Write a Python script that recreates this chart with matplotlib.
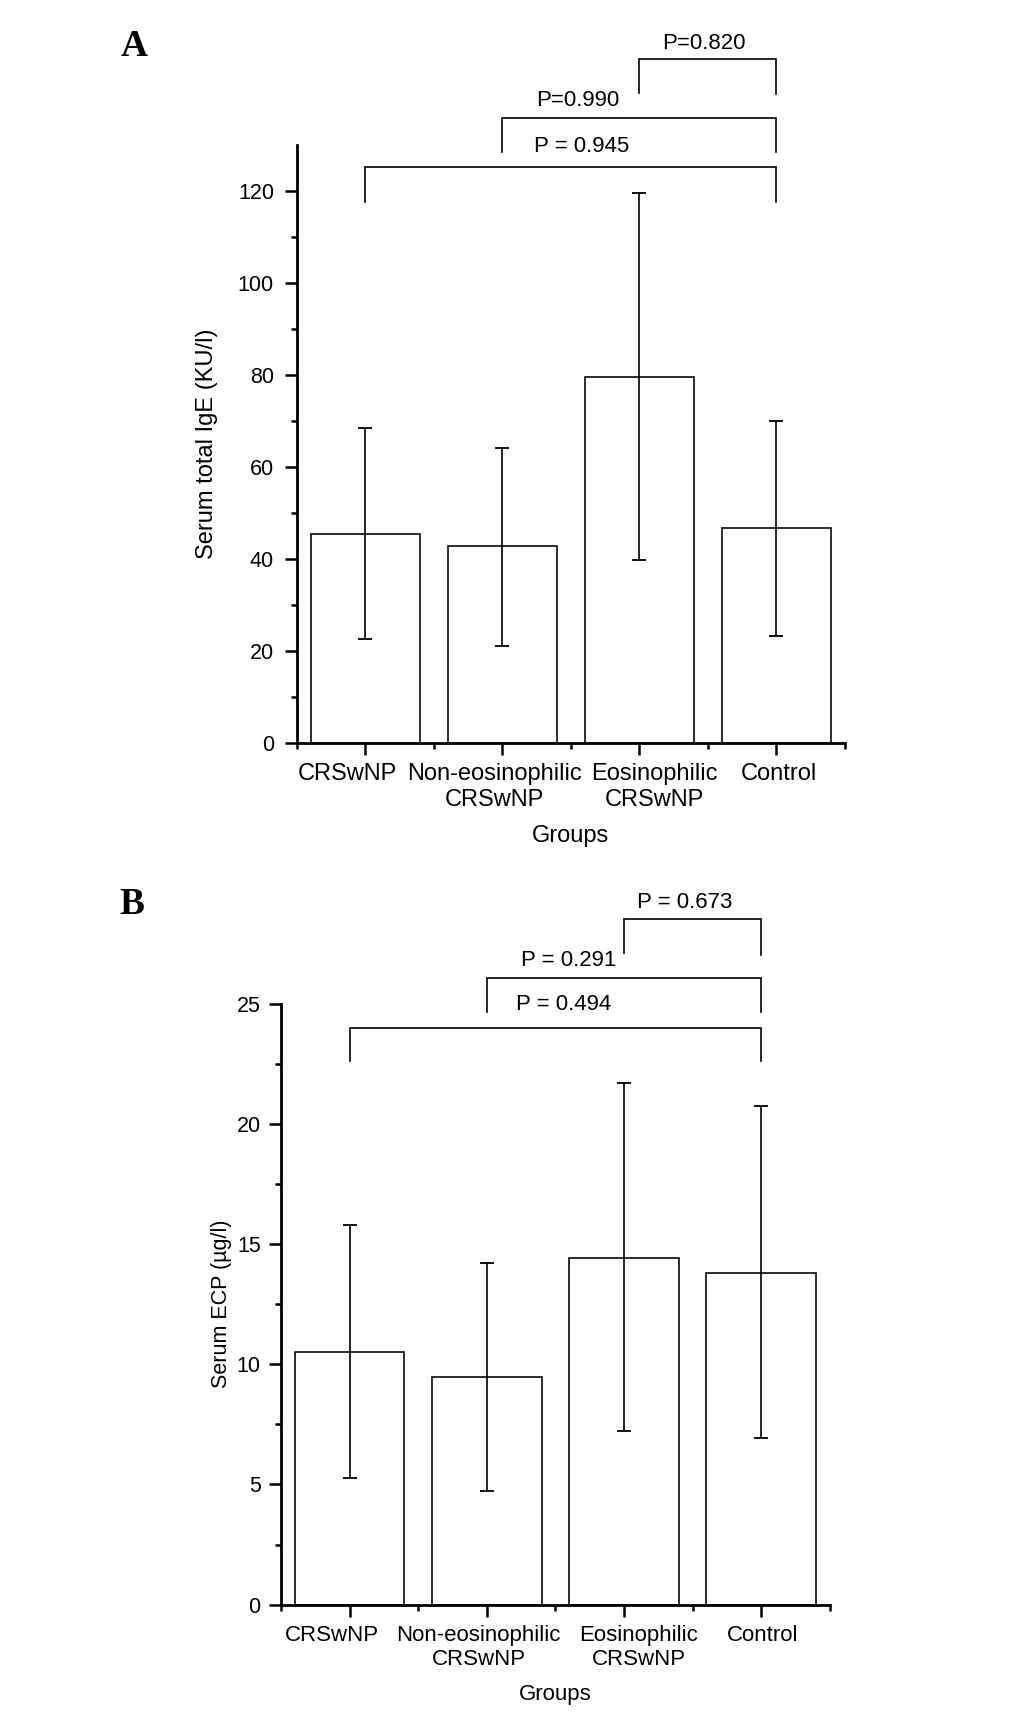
import numpy as np
import matplotlib.pyplot as plt
from matplotlib.transforms import ScaledTranslation

plt.rcParams['font.family'] = ['Liberation Sans', 'DejaVu Sans']

# data
groups = ['CRSwNP', 'Non-eosinophilic\nCRSwNP', 'Eosinophilic\nCRSwNP', 'Control']

ige_mean = [45.5, 42.7, 79.5, 46.8]
ige_low = [22.7, 21.1, 39.8, 23.3]
ige_high = [68.5, 64.0, 119.5, 70.0]

ecp_mean = [10.5, 9.47, 14.4, 13.8]
ecp_low = [5.28, 4.73, 7.22, 6.92]
ecp_high = [15.8, 14.2, 21.7, 20.75]

ige_pvals = ['P = 0.945', 'P=0.990', 'P=0.820']
ecp_pvals = ['P = 0.494', 'P = 0.291', 'P = 0.673']
pairs = [(0, 3), (1, 3), (2, 3)]

# bracket geometry per panel: (bar y, left leg end, right leg end, label x, label y)
ige_brackets = [(125.2, 117.6, 117.6, 1.58, 129.7),
                (135.9, 128.5, 128.5, 1.55, 139.7),
                (148.6, 141.2, 141.0, 2.47, 151.9)]
ecp_brackets = [(24.0, 22.6, 22.6, 1.56, 24.95),
                (26.07, 24.66, 24.66, 1.60, 26.8),
                (28.5, 27.1, 27.0, 2.44, 29.2)]

# x tick labels are not exactly centred under the ticks in the original (pixels)
label_shift = [-18, -8, 15, 2]


def draw_panel(ax, mean, low, high, ymax, ystep, ylabel, pvals, brackets,
               fs, xfs, tfs, ylpad, ytpad, xlpad):
    x = np.arange(len(groups))
    mean = np.array(mean)
    err = [mean - np.array(low), np.array(high) - mean]
    ax.bar(x, mean, width=0.8, color='white', edgecolor='black', linewidth=1.15)
    ax.errorbar(x, mean, yerr=err, fmt='none', ecolor='black', elinewidth=1.2,
                capsize=4.7, capthick=1.3)

    ax.set_xlim(-0.5, 3.5)
    ax.set_ylim(0, ymax)
    ax.set_xticks(x)
    ax.set_xticklabels(groups, fontsize=xfs)
    ax.set_xticks(np.arange(-0.5, 4, 1), minor=True)
    ax.set_yticks(np.arange(0, ymax + 0.01, ystep))
    ax.set_yticks(np.arange(ystep / 2, ymax - ystep / 2 + 0.01, ystep), minor=True)
    ax.tick_params(axis='y', labelsize=tfs, pad=ytpad)
    ax.tick_params(which='major', length=8.6, width=1.8, direction='out')
    ax.tick_params(which='minor', length=4.3, width=1.8, direction='out')
    ax.tick_params(axis='x', which='major', pad=6)
    for s in ['top', 'right']:
        ax.spines[s].set_visible(False)
    for s in ['left', 'bottom']:
        ax.spines[s].set_linewidth(2.0)

    for lab, dx in zip(ax.get_xticklabels(), label_shift):
        lab.set_transform(lab.get_transform() +
                          ScaledTranslation(dx / 100, 0, ax.figure.dpi_scale_trans))

    ax.set_xlabel('Groups', fontsize=xfs, labelpad=xlpad)
    ax.set_ylabel(ylabel, fontsize=fs, labelpad=ylpad)

    for (a, b), p, (yb, la, lb, tx, ty) in zip(pairs, pvals, brackets):
        ax.plot([a, a, b, b], [la, yb, yb, lb], color='black', lw=1.2,
                clip_on=False, solid_joinstyle='miter')
        ax.text(tx, ty, p, ha='center', va='center', fontsize=16, clip_on=False)


fig = plt.figure(figsize=(10.33, 17.14), dpi=100)

ax1 = fig.add_axes([0.2875, 0.5665, 0.5305, 0.3491])
draw_panel(ax1, ige_mean, ige_low, ige_high, 120, 20, 'Serum total IgE (KU/l)',
           ige_pvals, ige_brackets, 17, 17, 15.5, 14, 8, 10)
ax1.set_ylim(0, 130)

ax2 = fig.add_axes([0.2720, 0.0638, 0.5312, 0.3507])
draw_panel(ax2, ecp_mean, ecp_low, ecp_high, 25, 5, 'Serum ECP (\u00b5g/l)',
           ecp_pvals, ecp_brackets, 15.5, 16, 15.5, 3, 6, 10)

fig.text(134 / 1033, 1 - 46 / 1714, 'A', fontsize=27, fontweight='bold',
         family='Liberation Serif', ha='center', va='center')
fig.text(132 / 1033, 1 - 904 / 1714, 'B', fontsize=27, fontweight='bold',
         family='Liberation Serif', ha='center', va='center')

fig.savefig('out.png', dpi=100)
